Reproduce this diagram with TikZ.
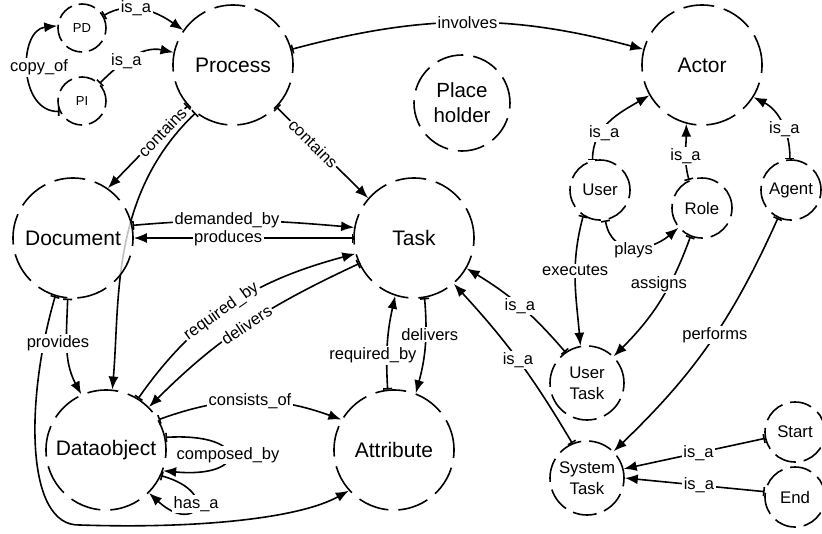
\documentclass[tikz,border=0pt]{standalone}
\usepackage{fontspec}
\setmainfont{Liberation Sans}
\usetikzlibrary{arrows.meta}
\pgfdeclarelayer{background}
\pgfsetlayers{background,main}
\begin{document}
\begin{tikzpicture}[x=1pt,y=1pt,
  ent/.style={circle, draw, line width=1.6pt, inner sep=0pt, align=center},
  bigc/.style={ent, minimum size=120pt, dash pattern=on 31pt off 10pt, font=\fontsize{21}{25}\selectfont},
  phc/.style={ent, minimum size=96pt, dash pattern=on 27pt off 10pt, font=\fontsize{20.5}{25}\selectfont},
  midc/.style={ent, minimum size=74pt, dash pattern=on 24pt off 8pt, font=\fontsize{16.8}{21}\selectfont},
  smallc/.style={ent, minimum size=60pt, dash pattern=on 22pt off 8pt, font=\fontsize{16.8}{20}\selectfont},
  tinyc/.style={ent, minimum size=48pt, dash pattern=on 17pt off 7pt, font=\fontsize{13}{15}\selectfont},
  edge/.style={line width=1.6pt, {Bar[width=9pt]}-{Latex[length=13pt,width=10pt]}},
  lbl/.style={fill=white, inner sep=1.5pt, font=\fontsize{16.5}{19}\selectfont}]
\useasboundingbox (0,0) rectangle (822,-533);

% nodes
\node[bigc] (process) at (233,-65) {Process};
\node[bigc] (actor) at (702,-65) {Actor};
\node[phc] (ph) at (462,-103) {Place\\holder};
\node[bigc, fill=white, fill opacity=0.75, text opacity=1, draw opacity=1] (doc) at (73,-238) {Document};
\node[bigc] (task) at (414,-238) {Task};
\node[bigc] (data) at (106,-450) {Dataobject};
\node[bigc] (attr) at (394,-450) {Attribute};
\node[tinyc] (pd) at (82,-28) {PD};
\node[tinyc] (pi) at (82,-101) {PI};
\node[smallc] (user) at (600,-190) {User};
\node[smallc] (role) at (702,-208) {Role};
\node[smallc] (agent) at (791,-190) {Agent};
\node[midc] (utask) at (587,-383) {User\\Task};
\node[midc] (stask) at (587,-478) {System\\Task};
\node[smallc] (start) at (795,-432) {Start};
\node[smallc] (end) at (795,-497) {End};

% edges
\draw[edge] (pd) to[out=30,in=145] node[lbl,pos=0.4]{is\_a} (process);
\draw[edge] (pi) to[out=45,in=168] node[lbl,pos=0.4]{is\_a} (process);
\draw[edge] (pi.205) .. controls (18,-112) and (18,-30) .. node[lbl,pos=0.5,xshift=11pt,yshift=3pt]{copy\_of} (pd.175);
\draw[edge] (process) to[out=15,in=165] node[lbl]{involves} (actor);
\begin{pgfonlayer}{background}
\draw[edge] (process.232) .. controls (110,-195) and (120,-300) .. (data.84);
\end{pgfonlayer}
\draw[edge] (process.222) -- node[lbl,sloped,pos=0.32]{contains} (doc.55);
\draw[edge] (process.-44) -- node[lbl,sloped,pos=0.4]{contains} (task.139);
\draw[edge] (doc.12) to[out=5,in=175] node[lbl,pos=0.42]{demanded\_by} (task.170);
\draw[edge] (task.180) -- node[lbl,pos=0.57]{produces} (doc.0);
\draw[edge] (data.58) to[out=55,in=195] node[lbl,sloped,pos=0.45]{required\_by} (task.195);
\draw[edge] (task.205) to[out=205,in=45] node[lbl,sloped,pos=0.5]{delivers} (data.45);
\draw[edge] (doc.253) .. controls (25,-400) and (25,-527) .. (80,-525) .. controls (200,-529) and (300,-518) .. (attr.222);
\draw[edge] (doc.265) to[out=268,in=118] node[lbl,pos=0.45,xshift=-9pt]{provides} (data.114);
\draw[edge] (data.30) to[bend left=20] node[lbl]{consists\_of} (attr.150);
\draw[edge] (data.12) .. controls +(85,5) and +(85,-8) .. node[lbl,pos=0.5]{composed\_by} (data.-20);
\draw[edge] (data.-25) .. controls +(60,-17) and +(47,-43) .. node[lbl,pos=0.45]{has\_a} (data.-45);
\draw[edge] (task.280) to[bend left=10] node[lbl,pos=0.37,xshift=4pt]{delivers} (attr.69);
\draw[edge] (attr.96) to[bend left=8] node[lbl,pos=0.35,xshift=-14pt]{required\_by} (task.252);
\draw[edge] (user.104) to[out=90,in=210] node[lbl,pos=0.32,xshift=4pt]{is\_a} (actor.210);
\draw[edge] (role.115) to[out=105,in=270] node[lbl,pos=0.43]{is\_a} (actor.255);
\draw[edge] (agent.92) to[out=90,in=-27] node[lbl,pos=0.4]{is\_a} (actor.-32);
\draw[edge] (user.-80) to[out=-80,in=220,looseness=1.3] node[lbl,pos=0.5,yshift=-3pt]{plays} (role.220);
\draw[edge] (user.237) to[out=255,in=95] node[lbl,pos=0.42]{executes} (utask.100);
\draw[edge] (role.248) to[out=250,in=45] node[lbl,pos=0.35,xshift=-11pt]{assigns} (utask.45);
\draw[edge] (agent.245) to[bend left=11] node[lbl,pos=0.46]{performs} (stask.45);
\draw[edge] (utask.125) to[bend right=9] node[lbl,pos=0.5]{is\_a} (task.-30);
\draw[edge] (stask.113) to[bend right=6] node[lbl,pos=0.5]{is\_a} (task.-49);
\draw[edge] (start.192) -- node[lbl,pos=0.47]{is\_a} (stask.14);
\draw[edge] (end.170) -- node[lbl,pos=0.47]{is\_a} (stask.0);
\end{tikzpicture}
\end{document}
